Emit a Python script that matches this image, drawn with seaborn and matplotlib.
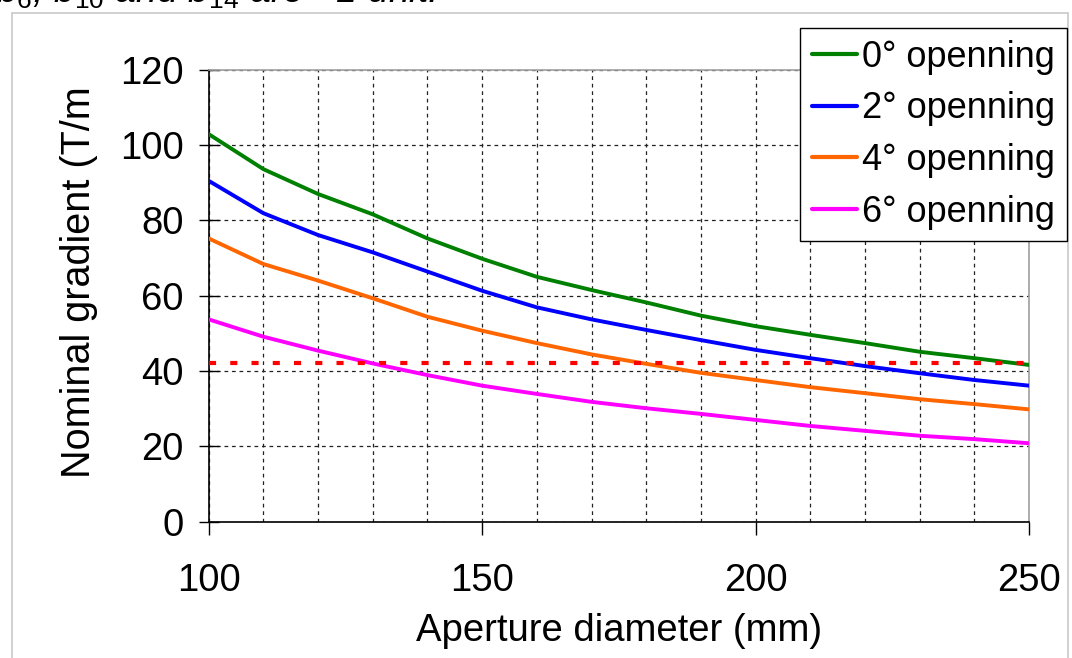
import matplotlib
matplotlib.use("Agg")
import matplotlib.pyplot as plt
import seaborn as sns
import pandas as pd
from matplotlib.patches import Rectangle
from matplotlib.ticker import MultipleLocator
from matplotlib.lines import Line2D

# ---- data ----
aperture = [100, 110, 120, 130, 140, 150, 160, 170, 180, 190, 200, 210, 220, 230, 240, 250]
open0 = [102.9, 93.6, 87.0, 81.6, 75.2, 69.8, 65.0, 61.5, 58.2, 54.7, 51.9, 49.6, 47.4, 45.1, 43.4, 41.6]
open2 = [90.5, 81.9, 76.1, 71.5, 66.4, 61.3, 56.9, 53.7, 50.9, 48.2, 45.6, 43.4, 41.3, 39.4, 37.6, 36.1]
open4 = [75.2, 68.4, 64.0, 59.3, 54.4, 50.7, 47.4, 44.4, 41.9, 39.5, 37.6, 35.7, 34.1, 32.5, 31.2, 29.8]
open6 = [53.7, 49.1, 45.4, 42.0, 38.9, 36.1, 33.9, 31.8, 30.1, 28.6, 27.0, 25.4, 24.1, 22.8, 21.9, 20.8]
labels = ["0° openning", "2° openning", "4° openning", "6° openning"]
colors = ["#008000", "#0000ff", "#ff6600", "#ff00ff"]
limit_x = [100, 250]
limit_y = [42, 42]
x_ticks = [100, 150, 200, 250]
y_ticks = [0, 20, 40, 60, 80, 100, 120]

sns.set_style("white")
plt.rcParams["font.family"] = ["Liberation Sans", "DejaVu Sans"]
plt.rcParams["text.color"] = "black"
plt.rcParams["mathtext.fontset"] = "custom"
plt.rcParams["mathtext.rm"] = "Liberation Sans"
plt.rcParams["mathtext.it"] = "Liberation Sans:italic"

rows = []
for lab, vals in zip(labels, [open0, open2, open4, open6]):
    for a, v in zip(aperture, vals):
        rows.append({"Aperture": a, "Gradient": v, "Series": lab})
df = pd.DataFrame(rows)

fig = plt.figure(figsize=(10.72, 6.58), dpi=100)
ax = fig.add_axes([0.1947, 0.2073, 0.7653, 0.6867])

sns.lineplot(data=df, x="Aperture", y="Gradient", hue="Series", hue_order=labels,
             palette=colors, linewidth=2.8, ax=ax, legend=False, zorder=3)
sns.lineplot(x=limit_x, y=limit_y, color="#ff0000", linewidth=3.0, ax=ax,
             linestyle=(0, (1.7, 3.4)), zorder=4)
for l in ax.lines[-1:]:
    l.set_dash_capstyle("butt")

ax.set_xlim(100, 250)
ax.set_ylim(0, 120)
ax.set_xticks(x_ticks)
ax.set_yticks(y_ticks)
ax.xaxis.set_minor_locator(MultipleLocator(10))
ax.grid(False)
ax.xaxis.grid(True, which="both", color="#222222", linestyle=(0, (3, 3)), linewidth=0.9)
ax.yaxis.grid(True, which="major", color="#222222", linestyle=(0, (3, 3)), linewidth=0.9)
ax.set_axisbelow(True)

ax.tick_params(axis="x", which="major", direction="out", length=9, width=1, color="black",
               labelsize=27.5, pad=21, bottom=True, labelcolor="black")
ax.tick_params(axis="x", which="minor", length=0)
ax.tick_params(axis="y", which="major", direction="inout", length=14, width=1, color="black",
               labelsize=27.5, pad=11, left=True, labelcolor="black")

for s in ["left", "bottom"]:
    ax.spines[s].set_color("black")
    ax.spines[s].set_linewidth(1.2)
for s in ["top", "right"]:
    ax.spines[s].set_color("#a0a0a0")
    ax.spines[s].set_linewidth(1.2)

ax.set_xlabel("Aperture diameter (mm)", fontsize=27.5, labelpad=10, color="black")
ax.set_ylabel("Nominal gradient (T/m", fontsize=28.5, color="black")
ax.yaxis.set_label_coords(-0.135, 0.53)

handles = [Line2D([0], [0], color=c, linewidth=3.0) for c in colors]
leg = fig.legend(handles, labels, loc="upper right", bbox_to_anchor=(0.995, 0.957),
                 bbox_transform=fig.transFigure, fontsize=26, frameon=True, fancybox=False,
                 edgecolor="black", framealpha=1, borderaxespad=0, handlelength=1.25,
                 handletextpad=0.15, labelspacing=0.46, borderpad=0.32)
leg.get_frame().set_linewidth(1.0)
for t in leg.get_texts():
    t.set_color("black")

fig.patches.append(Rectangle((12 / 1072, -0.05), (1068 - 12) / 1072, 1.05 - 13 / 658,
                             transform=fig.transFigure, fill=False, edgecolor="#c8c8c8",
                             linewidth=1.2, zorder=0))
fig.text(-0.004, 0.9965, r"$b_6$, $b_{10}$ and $b_{14}$ are <1 unit.", fontsize=27,
         ha="left", va="baseline", style="italic")

fig.savefig("out.png", dpi=100)
